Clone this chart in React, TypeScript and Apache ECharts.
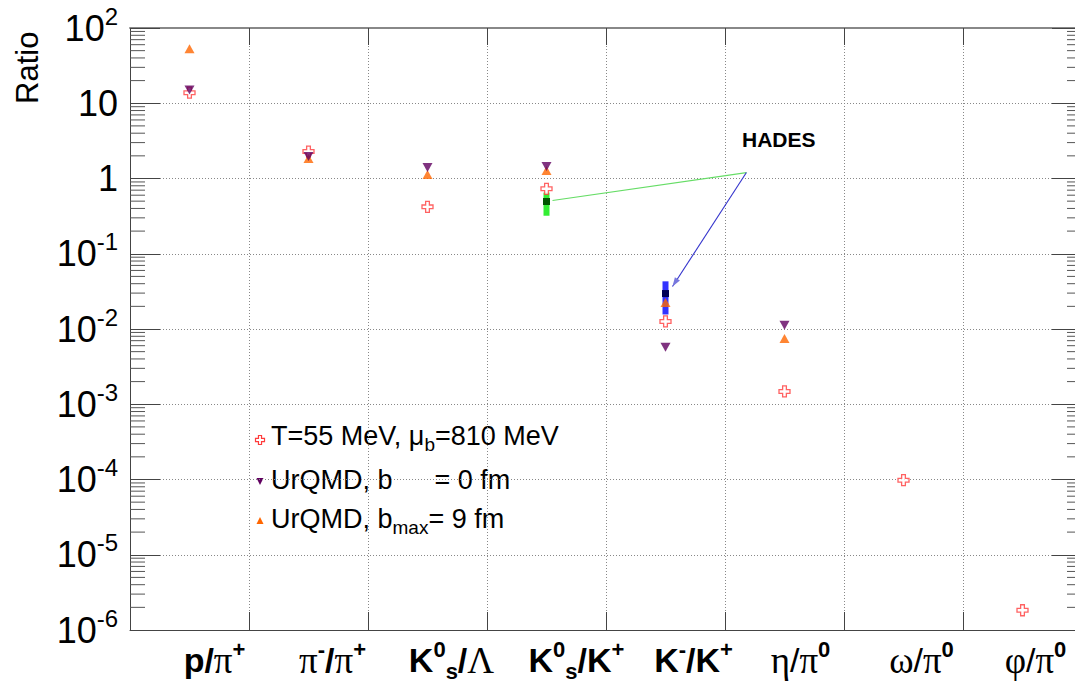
import React, { useEffect, useRef } from 'react';
import * as echarts from 'echarts';

const categories = ['p/π+', 'π-/π+', 'K0s/Λ', 'K0s/K+', 'K-/K+', 'η/π0', 'ω/π0', 'φ/π0'];
const categoryLabels = [
  '{b|p/}{g|π}{sup|+}',
  '{g|π}{sup|-}{b|/}{g|π}{sup|+}',
  '{b|K}{sup|0}{sub|s}{b|/}{g|Λ}',
  '{b|K}{sup|0}{sub|s}{b|/K}{sup|+}',
  '{b|K}{sup|-}{b|/K}{sup|+}',
  '{g|η}{n|/}{g|π}{sup|0}',
  '{g|ω}{n|/}{g|π}{sup|0}',
  '{g|φ}{n|/}{g|π}{sup|0}',
];
// horizontal offset (px) of each tick label's centre from its category centre, as in the original
const labelShift = [25, 24, 24, 30, 28, 16, 18, 13];

const thermalFit = [13.8, 2.28, 0.42, 0.73, 0.0126, 0.00148, 9.8e-5, 1.83e-6];
const urqmdB0 = [15, 1.96, 1.4, 1.44, 0.0057, 0.0112, null, null];
const urqmdBmax = [53, 1.85, 1.13, 1.28, 0.0225, 0.0075, null, null];

const hadesCategory = [3, 4];
const hadesValue = [0.495, 0.0296];
const hadesLow = [0.32, 0.0156];
const hadesHigh = [0.65, 0.043];

const yMin = 1e-6;
const yMax = 100;

const SANS = '"Liberation Sans", Arial, sans-serif';
const SERIF = '"Liberation Serif", "Times New Roman", serif';

const RED = '#ff3b3b';
const PURPLE = '#600060';
const ORANGE = '#ff6600';

const crossPath = 'path://M3.3,0H6.7V3.3H10V6.7H6.7V10H3.3V6.7H0V3.3H3.3Z';

function toPairs(arr: (number | null)[]) {
  const out: [number, number][] = [];
  arr.forEach((v, i) => {
    if (v != null) out.push([i, v]);
  });
  return out;
}

function minorTickValues() {
  const out: [number, number][] = [];
  for (let e = Math.round(Math.log10(yMin)); e < Math.round(Math.log10(yMax)); e++) {
    for (let k = 2; k <= 9; k++) out.push([0, k * Math.pow(10, e)]);
  }
  return out;
}

function crossPoly(cx: number, cy: number, s: number) {
  const a = s / 2;
  const b = s * 0.17;
  return [
    [cx - b, cy - a], [cx + b, cy - a], [cx + b, cy - b], [cx + a, cy - b],
    [cx + a, cy + b], [cx + b, cy + b], [cx + b, cy + a], [cx - b, cy + a],
    [cx - b, cy + b], [cx - a, cy + b], [cx - a, cy - b], [cx - b, cy - b],
  ];
}

export default function App() {
  const ref = useRef<HTMLDivElement>(null);

  useEffect(() => {
    if (!ref.current) return;
    const chart = echarts.init(ref.current, null, { renderer: 'svg' });

    const xRich: any = {
      b: { fontFamily: SANS, fontWeight: 'bold', fontSize: 34, lineHeight: 44, color: '#000' },
      n: { fontFamily: SANS, fontSize: 34, lineHeight: 44, color: '#000' },
      g: { fontFamily: SERIF, fontSize: 37, lineHeight: 44, color: '#000' },
      sup: { fontFamily: SANS, fontWeight: 'bold', fontSize: 22, lineHeight: 22, verticalAlign: 'top', color: '#000' },
      sub: { fontFamily: SANS, fontWeight: 'bold', fontSize: 22, lineHeight: 18, verticalAlign: 'bottom', color: '#000' },
    };
    labelShift.forEach((s, i) => {
      xRich['sp' + i] = { fontSize: 10, lineHeight: 10, width: 2 * s, color: '#000' };
    });

    const yRich = {
      b: { fontFamily: SANS, fontSize: 36, lineHeight: 48, color: '#000' },
      s: { fontFamily: SANS, fontSize: 24, lineHeight: 24, verticalAlign: 'top', color: '#000' },
    };

    const legendRich = {
      t: { fontFamily: SANS, fontSize: 27, lineHeight: 36, fill: '#000' },
      s: { fontFamily: SANS, fontSize: 19, lineHeight: 18, verticalAlign: 'bottom', fill: '#000' },
      g: { fontFamily: SANS, fontSize: 19, lineHeight: 18, width: 42, fill: '#000' },
    };

    const option: any = {
      animation: false,
      backgroundColor: '#fff',
      grid: { left: 130, top: 28, right: 0, bottom: 52, containLabel: false },
      xAxis: [
        {
          type: 'category',
          data: categories,
          position: 'bottom',
          boundaryGap: true,
          axisLine: { show: true, lineStyle: { color: '#444', width: 1 } },
          axisTick: { show: true, inside: true, length: 18, interval: 0, lineStyle: { color: '#444' } },
          splitLine: { show: true, interval: 0, lineStyle: { color: '#888', type: [1, 2], width: 1 } },
          axisLabel: {
            interval: 0,
            margin: 8,
            align: 'center',
            formatter: (_v: string, i: number) => '{sp' + i + '| }' + categoryLabels[i],
            rich: xRich,
          },
        },
        {
          type: 'category',
          data: categories,
          position: 'top',
          boundaryGap: true,
          axisLine: { show: true, lineStyle: { color: '#888', width: 2 } },
          axisTick: { show: true, inside: true, length: 17, interval: 0, lineStyle: { color: '#444' } },
          splitLine: { show: false },
          axisLabel: { show: false },
        },
      ],
      yAxis: [
        {
          type: 'log',
          logBase: 10,
          min: yMin,
          max: yMax,
          interval: 1,
          position: 'left',
          axisLine: { show: true, lineStyle: { color: '#444', width: 1 } },
          axisTick: { show: true, inside: true, length: 30, lineStyle: { color: '#444' } },
          splitLine: { show: true, lineStyle: { color: '#888', type: [1, 2], width: 1 } },
          axisLabel: {
            margin: 12,
            formatter: (v: number) => {
              const e = Math.round(Math.log10(v));
              if (e === 0) return '{b|1}';
              if (e === 1) return '{b|10}';
              return '{b|10}{s|' + e + '}';
            },
            rich: yRich,
          },
        },
        {
          type: 'log',
          logBase: 10,
          min: yMin,
          max: yMax,
          interval: 1,
          position: 'right',
          axisLine: { show: true, lineStyle: { color: '#444', width: 1 } },
          axisTick: { show: true, inside: true, length: 30, lineStyle: { color: '#444' } },
          splitLine: { show: false },
          axisLabel: { show: false },
        },
      ],
      series: [
        {
          type: 'custom',
          name: 'minor ticks',
          silent: true,
          xAxisIndex: 0,
          yAxisIndex: 0,
          data: minorTickValues(),
          encode: { x: 0, y: 1 },
          renderItem: (params: any, api: any) => {
            const y = api.coord([0, api.value(1)])[1];
            const cs = params.coordSys;
            return {
              type: 'group',
              children: [
                { type: 'line', shape: { x1: cs.x, y1: y, x2: cs.x + 15, y2: y }, style: { stroke: '#555', lineWidth: 1 } },
                { type: 'line', shape: { x1: cs.x + cs.width - 15, y1: y, x2: cs.x + cs.width, y2: y }, style: { stroke: '#555', lineWidth: 1 } },
              ],
            };
          },
          z: 1,
        },
        {
          type: 'custom',
          name: 'HADES',
          silent: true,
          xAxisIndex: 0,
          yAxisIndex: 0,
          data: hadesCategory.map((c, i) => [c, hadesValue[i], hadesLow[i], hadesHigh[i]]),
          encode: { x: 0, y: 1 },
          renderItem: (params: any, api: any) => {
            const idx = params.dataIndex;
            const x = api.value(0);
            const p = api.coord([x, api.value(1)]);
            const pl = api.coord([x, api.value(2)]);
            const ph = api.coord([x, api.value(3)]);
            // annotation anchor: between the K-/K+ and eta/pi0 categories, at ratio 1.2
            const c4 = api.coord([4, 1.2]);
            const c5 = api.coord([5, 1.2]);
            const anchor = [c4[0] + 0.68 * (c5[0] - c4[0]), c4[1]];
            const barColor = idx === 0 ? '#33ee33' : '#3333ff';
            const dotColor = idx === 0 ? '#005500' : '#000055';
            const children: any[] = [
              { type: 'rect', shape: { x: p[0] - 3, y: ph[1], width: 6, height: pl[1] - ph[1] }, style: { fill: barColor } },
              { type: 'rect', shape: { x: p[0] - 3.5, y: p[1] - 3.5, width: 7, height: 7 }, style: { fill: dotColor } },
            ];
            if (idx === 0) {
              children.push({
                type: 'line',
                shape: { x1: anchor[0], y1: anchor[1], x2: p[0] + 6, y2: p[1] - 1 },
                style: { stroke: '#66dd66', lineWidth: 1.2 },
              });
            } else {
              const tx = p[0] + 7;
              const ty = p[1] - 7;
              const dx = tx - anchor[0];
              const dy = ty - anchor[1];
              const len = Math.sqrt(dx * dx + dy * dy);
              const ux = dx / len;
              const uy = dy / len;
              const bx = tx - ux * 9;
              const by = ty - uy * 9;
              children.push({
                type: 'line',
                shape: { x1: anchor[0], y1: anchor[1], x2: tx, y2: ty },
                style: { stroke: '#3333cc', lineWidth: 1.1 },
              });
              children.push({
                type: 'polygon',
                shape: { points: [[tx, ty], [bx - uy * 3, by + ux * 3], [bx + uy * 3, by - ux * 3]] },
                style: { fill: '#7777dd' },
              });
            }
            return { type: 'group', children };
          },
          z: 2,
        },
        {
          type: 'scatter',
          name: 'T=55 MeV, μb=810 MeV',
          data: toPairs(thermalFit),
          symbol: crossPath,
          symbolSize: 11,
          itemStyle: { color: '#fff', borderColor: RED, borderWidth: 1.3 },
          z: 3,
        },
        {
          type: 'scatter',
          name: 'UrQMD, bmax = 9 fm',
          data: toPairs(urqmdBmax),
          symbol: 'triangle',
          symbolSize: [10, 9],
          itemStyle: { color: ORANGE },
          z: 4,
        },
        {
          type: 'scatter',
          name: 'UrQMD, b = 0 fm',
          data: toPairs(urqmdB0),
          symbol: 'triangle',
          symbolRotate: 180,
          symbolSize: [10, 9],
          itemStyle: { color: PURPLE },
          z: 5,
        },
      ],
      graphic: [
        {
          type: 'text',
          x: 27,
          y: 104,
          rotation: Math.PI / 2,
          style: { text: 'Ratio', font: '31px ' + SANS, fill: '#000', align: 'left', verticalAlign: 'middle' },
        },
        {
          type: 'text',
          left: 742,
          top: 129,
          style: { text: 'HADES', font: 'bold 21px ' + SANS, fill: '#000' },
        },
        {
          type: 'polygon',
          shape: { points: crossPoly(260, 440, 9) },
          style: { fill: '#fff', stroke: RED, lineWidth: 1.2 },
        },
        {
          type: 'polygon',
          shape: { points: [[256.5, 478], [263.5, 478], [260, 485]] },
          style: { fill: PURPLE },
        },
        {
          type: 'polygon',
          shape: { points: [[256.5, 524], [263.5, 524], [260, 517]] },
          style: { fill: ORANGE },
        },
        {
          type: 'text',
          left: 271,
          top: 422,
          style: { text: '{t|T=55 MeV, μ}{s|b}{t|=810 MeV}', rich: legendRich },
        },
        {
          type: 'text',
          left: 271,
          top: 466,
          style: { text: '{t|UrQMD, b}{g| }{t|= 0 fm}', rich: legendRich },
        },
        {
          type: 'text',
          left: 271,
          top: 505,
          style: { text: '{t|UrQMD, b}{s|max}{t|= 9 fm}', rich: legendRich },
        },
      ],
    };

    chart.setOption(option);
    return () => chart.dispose();
  }, []);

  return (
    <div style={{ position: 'absolute', left: 0, top: 0, width: 1075, height: 682, overflow: 'hidden' }}>
      <div ref={ref} style={{ position: 'absolute', left: 0, top: 0, width: 1082, height: 682 }} />
    </div>
  );
}
